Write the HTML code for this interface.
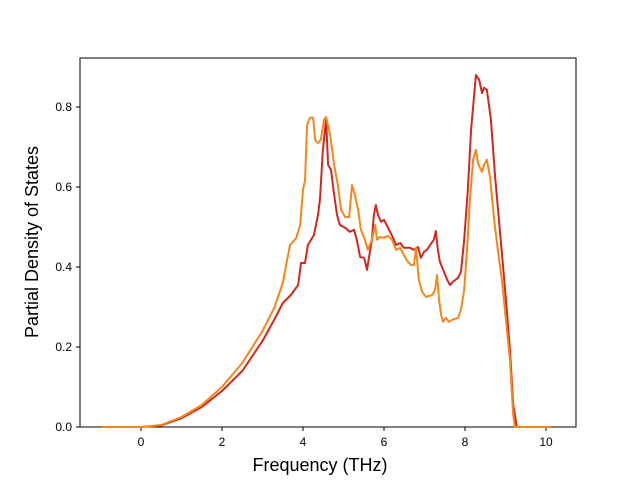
<!DOCTYPE html>
<html><head><meta charset="utf-8"><style>
body{margin:0;background:#fff;}
svg{display:block;font-family:"Liberation Sans","DejaVu Sans",sans-serif;}
</style></head><body>
<svg id="chart" width="640" height="480">
<rect x="80" y="58" width="496" height="369" fill="#fff" stroke="#000" stroke-width="1"/>
<g id="ticks"></g>
<g id="series"></g>
<text x="320" y="471" text-anchor="middle" font-size="18">Frequency (THz)</text>
<text transform="translate(38,242) rotate(-90)" text-anchor="middle" font-size="18">Partial Density of States</text>
</svg>
<script>
const xTicks=[0,2,4,6,8,10];
const yTicks=[0.0,0.2,0.4,0.6,0.8];
const orangeF=[-0.96,0,0.5,1.0,1.5,2.0,2.5,3.0,3.3,3.5,3.68,3.83,3.93,4.0,4.05,4.1,4.17,4.25,4.3,4.37,4.44,4.52,4.57,4.67,4.77,4.86,4.94,5.04,5.14,5.21,5.28,5.36,5.43,5.53,5.6,5.7,5.78,5.83,5.9,6.0,6.1,6.2,6.3,6.4,6.49,6.59,6.67,6.74,6.79,6.86,6.94,7.04,7.19,7.26,7.31,7.36,7.41,7.46,7.53,7.6,7.68,7.83,7.9,7.98,8.05,8.12,8.2,8.27,8.32,8.37,8.42,8.47,8.54,8.62,8.72,8.81,8.91,9.01,9.11,9.19,9.23,10.12];
const orangeV=[0,0,0.005,0.025,0.055,0.1,0.16,0.24,0.3,0.36,0.455,0.472,0.505,0.593,0.617,0.755,0.773,0.773,0.718,0.71,0.718,0.768,0.775,0.73,0.655,0.605,0.543,0.525,0.525,0.605,0.58,0.543,0.493,0.468,0.443,0.468,0.505,0.468,0.475,0.473,0.478,0.468,0.443,0.448,0.43,0.413,0.405,0.405,0.448,0.368,0.338,0.325,0.33,0.343,0.38,0.318,0.28,0.263,0.273,0.263,0.268,0.273,0.293,0.343,0.443,0.568,0.668,0.693,0.66,0.648,0.638,0.655,0.668,0.623,0.518,0.443,0.368,0.268,0.168,0.03,0,0];
const redF=[-0.96,0,0.5,1.0,1.5,2.0,2.5,3.0,3.3,3.5,3.7,3.88,3.95,4.05,4.12,4.27,4.37,4.42,4.49,4.57,4.62,4.69,4.77,4.84,4.91,5.04,5.16,5.26,5.33,5.41,5.51,5.58,5.7,5.75,5.8,5.85,5.93,6.0,6.1,6.2,6.3,6.4,6.49,6.64,6.74,6.84,6.91,6.99,7.06,7.14,7.23,7.28,7.33,7.38,7.46,7.56,7.63,7.7,7.83,7.9,7.98,8.07,8.15,8.27,8.35,8.42,8.47,8.54,8.64,8.74,8.86,8.99,9.11,9.19,9.28,10.12];
const redV=[0,0,0.004,0.022,0.05,0.09,0.14,0.215,0.27,0.31,0.33,0.355,0.41,0.41,0.455,0.48,0.53,0.57,0.693,0.768,0.655,0.643,0.58,0.53,0.505,0.498,0.488,0.493,0.468,0.425,0.423,0.393,0.468,0.53,0.555,0.53,0.513,0.518,0.498,0.478,0.455,0.46,0.448,0.448,0.443,0.45,0.423,0.438,0.443,0.455,0.468,0.49,0.443,0.413,0.393,0.368,0.355,0.363,0.373,0.388,0.468,0.593,0.743,0.88,0.868,0.835,0.848,0.843,0.768,0.63,0.493,0.343,0.193,0.055,0,0];
const NS="http://www.w3.org/2000/svg";
const X=f=>141+f*40.5;
const Y=v=>427-v*400;
const tg=document.getElementById('ticks');
xTicks.forEach(t=>{
  const l=document.createElementNS(NS,'line');
  l.setAttribute('x1',X(t));l.setAttribute('x2',X(t));l.setAttribute('y1',427);l.setAttribute('y2',431);l.setAttribute('stroke','#000');
  
  
  tg.appendChild(l);
  const s=document.createElementNS(NS,'text');
  s.setAttribute('x',X(t));s.setAttribute('y',446);s.setAttribute('text-anchor','middle');s.setAttribute('font-size','12');
  s.textContent=t;
  
  
  tg.appendChild(s);
});
yTicks.forEach(t=>{
  const l=document.createElementNS(NS,'line');
  l.setAttribute('x1',76);l.setAttribute('x2',80);l.setAttribute('y1',Y(t));l.setAttribute('y2',Y(t));l.setAttribute('stroke','#000');
  
  
  tg.appendChild(l);
  const s=document.createElementNS(NS,'text');
  s.setAttribute('x',72);s.setAttribute('y',Y(t)+4);s.setAttribute('text-anchor','end');s.setAttribute('font-size','12');
  s.textContent=t.toFixed(1);
  
  
  tg.appendChild(s);
});
const sg=document.getElementById('series');
function line(fs,vs,color,name){
  const p=document.createElementNS(NS,'polyline');
  p.setAttribute('points',fs.map((f,i)=>X(f)+','+Y(vs[i])).join(' '));
  p.setAttribute('fill','none');p.setAttribute('stroke',color);p.setAttribute('stroke-width','2');p.setAttribute('stroke-linejoin','round');
  
  
  sg.appendChild(p);
}
line(redF,redV,'#d0281f','red-series-line');
line(orangeF,orangeV,'#f5861a','orange-series-line');
</script>
</body></html>
